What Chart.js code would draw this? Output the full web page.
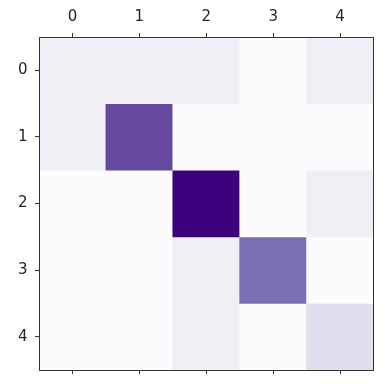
<!DOCTYPE html>
<html>
<head>
<meta charset="utf-8">
<script src="https://cdn.jsdelivr.net/npm/chart.js@4"></script>
<style>
html,body{margin:0;padding:0;background:#fff;}
canvas{display:block;}
</style>
</head>
<body>
<canvas id="c" width="391" height="387"></canvas>
<script>
// ---- data ----
const colLabels = ['0', '1', '2', '3', '4'];
const rowLabels = ['0', '1', '2', '3', '4'];
const row0 = [1, 1, 1, 0, 1];
const row1 = [1, 7, 0, 0, 0];
const row2 = [0, 0, 9, 0, 1];
const row3 = [0, 0, 1, 6, 0];
const row4 = [0, 0, 1, 0, 2];
const matrix = [row0, row1, row2, row3, row4];

// Purples colormap stops
const purples = ['#fcfbfd','#efedf5','#dadaeb','#bcbddc','#9e9ac8','#807dba','#6a51a3','#54278f','#3f007d'];
function hex(h){return [parseInt(h.slice(1,3),16),parseInt(h.slice(3,5),16),parseInt(h.slice(5,7),16)];}
function cmap(t){
  t = Math.max(0, Math.min(1, t));
  const p = t * (purples.length - 1);
  const i = Math.min(Math.floor(p), purples.length - 2);
  const f = p - i;
  const a = hex(purples[i]), b = hex(purples[i+1]);
  const c = a.map((v,k)=>Math.round(v + (b[k]-v)*f));
  return 'rgb(' + c.join(',') + ')';
}
const vmax = Math.max(...matrix.flat());
const vmin = Math.min(...matrix.flat());

const datasets = matrix.map((row, r) => ({
  label: rowLabels[r],
  data: row.map(() => [r - 0.5, r + 0.5]),
  backgroundColor: row.map(v => cmap((v - vmin) / (vmax - vmin))),
  borderWidth: 0,
  barPercentage: 1,
  categoryPercentage: 1,
  xAxisID: 'x',
  yAxisID: 'y'
}));

const textColor = '#262626';
const axisColor = '#333333';
const font = {family: 'DejaVu Sans', size: 15};
const borderOpt = {display: true, color: axisColor, width: 1, z: 1};

new Chart(document.getElementById('c'), {
  type: 'bar',
  data: {labels: colLabels, datasets},
  options: {
    responsive: false,
    animation: false,
    layout: {padding: 0},
    plugins: {legend: {display: false}, tooltip: {enabled: false}},
    scales: {
      x: {
        type: 'category',
        position: 'top',
        stacked: true,
        offset: true,
        grid: {offset: false, drawOnChartArea: false, drawTicks: true, tickLength: 4, tickColor: axisColor, tickWidth: 1},
        border: borderOpt,
        ticks: {color: textColor, font, padding: 7, maxRotation: 0},
        afterFit: s => { s.height = 37; }
      },
      x2: {
        type: 'category',
        position: 'bottom',
        labels: colLabels,
        offset: true,
        grid: {offset: false, drawOnChartArea: false, drawTicks: true, tickLength: 4, tickColor: axisColor, tickWidth: 1},
        border: borderOpt,
        ticks: {display: true, color: 'rgba(0,0,0,0)', font: {size: 1}, padding: 0},
        afterFit: s => { s.height = 17; }
      },
      y: {
        type: 'linear',
        position: 'left',
        reverse: true,
        min: -0.5,
        max: 4.5,
        grid: {drawOnChartArea: false, drawTicks: true, tickLength: 4, tickColor: axisColor, tickWidth: 1},
        border: borderOpt,
        ticks: {color: textColor, font, padding: 7.5, callback: v => rowLabels[v]},
        afterBuildTicks: s => { s.ticks = rowLabels.map((_, i) => ({value: i})); },
        afterFit: s => { s.width = 39; }
      },
      y2: {
        type: 'linear',
        position: 'right',
        min: -0.5,
        max: 4.5,
        grid: {drawOnChartArea: false, drawTicks: false},
        border: borderOpt,
        ticks: {display: false},
        afterFit: s => { s.width = 17.5; }
      }
    }
  }
});
</script>
</body>
</html>
